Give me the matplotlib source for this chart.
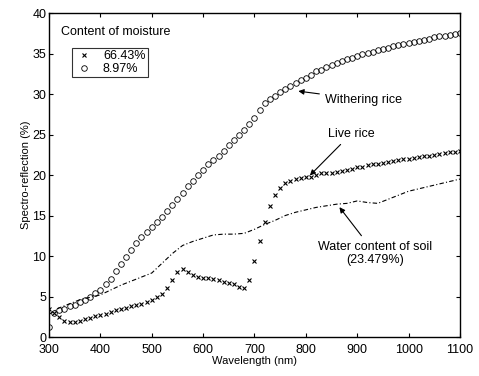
import numpy as np
import matplotlib
matplotlib.use('Agg')
import matplotlib.pyplot as plt

plt.rcParams['font.family'] = ['Liberation Sans', 'DejaVu Sans']

# Wavelength grid (nm)
wl = list(range(300, 1101, 10))

# Withering rice, moisture 8.97% (circles)
withering = [1.2, 3.0, 3.3, 3.5, 3.8, 4.0, 4.3, 4.6, 5.0, 5.4,
             5.8, 6.5, 7.2, 8.1, 9.0, 9.9, 10.8, 11.6, 12.4, 13.0,
             13.6, 14.2, 14.8, 15.5, 16.3, 17.0, 17.8, 18.6, 19.3, 20.0,
             20.6, 21.3, 21.9, 22.4, 23.0, 23.7, 24.3, 25.0, 25.6, 26.3,
             27.0, 28.0, 28.9, 29.4, 29.8, 30.2, 30.6, 31.0, 31.3, 31.7,
             32.0, 32.4, 32.8, 33.0, 33.3, 33.6, 33.8, 34.1, 34.3, 34.5,
             34.7, 34.9, 35.1, 35.2, 35.4, 35.6, 35.7, 35.9, 36.0, 36.2,
             36.3, 36.4, 36.5, 36.7, 36.8, 37.0, 37.1, 37.2, 37.3, 37.4,
             37.5]

# Live rice, moisture 66.43% (crosses)
live = [3.5, 3.0, 2.5, 2.0, 1.9, 1.9, 2.0, 2.2, 2.4, 2.6,
        2.7, 2.9, 3.1, 3.3, 3.4, 3.6, 3.8, 3.9, 4.1, 4.3,
        4.6, 4.9, 5.3, 6.0, 7.0, 8.0, 8.4, 8.0, 7.6, 7.4,
        7.3, 7.3, 7.2, 7.0, 6.8, 6.7, 6.5, 6.2, 6.0, 7.0,
        9.4, 11.9, 14.2, 16.2, 17.5, 18.4, 19.0, 19.3, 19.5, 19.6,
        19.7, 19.8, 20.0, 20.2, 20.3, 20.3, 20.4, 20.5, 20.6, 20.8,
        21.0, 21.0, 21.2, 21.3, 21.4, 21.5, 21.6, 21.7, 21.8, 22.0,
        22.0, 22.1, 22.2, 22.3, 22.4, 22.5, 22.6, 22.7, 22.8, 22.9,
        23.0]

# Soil, water content 23.479% (dash-dot line)
wl_soil = list(range(300, 1101, 20))
soil = [2.8, 3.6, 4.1, 4.6, 4.9, 5.2, 5.8, 6.4, 6.9, 7.4,
        7.9, 9.1, 10.3, 11.3, 11.8, 12.2, 12.6, 12.7, 12.7, 12.8,
        13.3, 13.9, 14.4, 15.0, 15.4, 15.7, 16.0, 16.2, 16.4, 16.5,
        16.8, 16.6, 16.5, 17.0, 17.5, 18.0, 18.3, 18.6, 18.9, 19.2,
        19.5]

fig = plt.figure(figsize=(4.79, 3.76), dpi=100)
ax = fig.add_axes([0.1023, 0.1037, 0.858, 0.8617])

ax.plot(wl, live, linestyle='none', marker='x', markersize=3.5,
        markeredgewidth=0.8, color='black', label='66.43%')
ax.plot(wl, withering, linestyle='none', marker='o', markersize=4,
        markerfacecolor='none', markeredgewidth=0.6, color='black', label='8.97%')
ax.plot(wl_soil, soil, linestyle=(0, (4, 2, 1, 2)), linewidth=0.8, color='black')

ax.set_xlim(300, 1100)
ax.set_ylim(0, 40)
ax.set_xticks(range(300, 1101, 100))
ax.set_yticks(range(0, 41, 5))
ax.tick_params(direction='in', top=True, right=True, labelsize=9, length=3, width=0.8)
ax.tick_params(axis='x', pad=5)
ax.tick_params(axis='y', pad=2)
for s in ax.spines.values():
    s.set_linewidth(1.0)

ax.set_xlabel('Wavelength (nm)', fontsize=8, labelpad=0)
ax.set_ylabel('Spectro-reflection (%)', fontsize=8, labelpad=1)

ax.text(0.03, 0.96, 'Content of moisture', transform=ax.transAxes,
        fontsize=9, va='top', ha='left')
leg = ax.legend(loc='upper left', bbox_to_anchor=(0.04, 0.912), fontsize=9,
                frameon=True, fancybox=False, edgecolor='black',
                borderpad=0.2, handlelength=1.5, labelspacing=0.05)
leg.get_frame().set_linewidth(0.8)

arrow = dict(arrowstyle='-|>', color='black', lw=0.8, mutation_scale=8)
ax.annotate('Withering rice', xy=(780, 30.4), xytext=(837, 29.3),
            fontsize=9, va='center', ha='left', arrowprops=arrow)
ax.annotate('Live rice', xy=(804, 19.7), xytext=(843, 25.1),
            fontsize=9, va='center', ha='left', arrowprops=arrow)
ax.annotate('Water content of soil\n(23.479%)', xy=(862, 16.3), xytext=(935, 10.3),
            fontsize=9, va='center', ha='center', arrowprops=arrow)

fig.savefig('out.png', dpi=100)
